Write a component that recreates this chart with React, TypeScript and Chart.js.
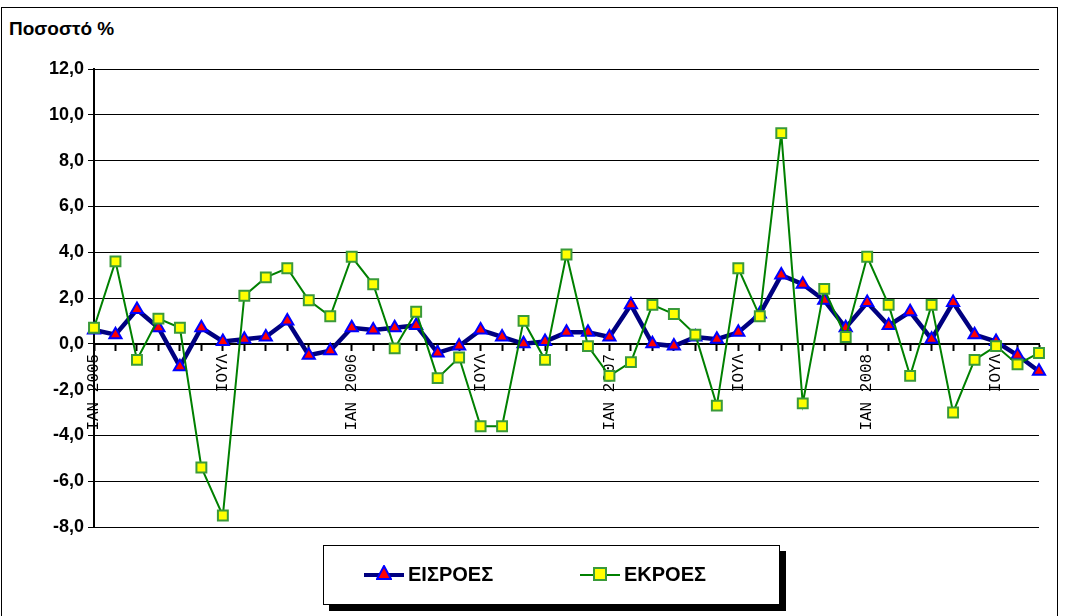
import React, { useEffect, useRef } from "react";
import { Chart, registerables } from "chart.js";
Chart.register(...registerables);

const months = ["ΙΑΝ 2005","","","","","","ΙΟΥΛ","","","","","","ΙΑΝ 2006","","","","","","ΙΟΥΛ","","","","","","ΙΑΝ 2007","","","","","","ΙΟΥΛ","","","","","","ΙΑΝ 2008","","","","","","ΙΟΥΛ","",""];
const eisroes = [0.6,0.4,1.5,0.7,-1.0,0.7,0.1,0.2,0.3,1.0,-0.5,-0.3,0.7,0.6,0.7,0.8,-0.4,-0.1,0.6,0.3,0.0,0.1,0.5,0.5,0.3,1.7,0.0,-0.1,0.3,0.2,0.5,1.3,3.0,2.6,1.9,0.7,1.8,0.8,1.4,0.2,1.8,0.4,0.1,-0.5,-1.2];
const ekroes = [0.7,3.6,-0.7,1.1,0.7,-5.4,-7.5,2.1,2.9,3.3,1.9,1.2,3.8,2.6,-0.2,1.4,-1.5,-0.6,-3.6,-3.6,1.0,-0.7,3.9,-0.1,-1.4,-0.8,1.7,1.3,0.4,-2.7,3.3,1.2,9.2,-2.6,2.4,0.3,3.8,1.7,-1.4,1.7,-3.0,-0.7,-0.1,-0.9,-0.4];

export default function App() {
  const ref = useRef<HTMLCanvasElement>(null);
  useEffect(() => {
    const chart = new Chart(ref.current!, {
      type: "line",
      data: {
        labels: months,
        datasets: [
          { label: "ΕΚΡΟΕΣ", data: ekroes, order: 0, borderColor: "#008000", borderWidth: 2, pointStyle: "rect", pointRadius: 7, pointBackgroundColor: "#ffff00", pointBorderColor: "#3a9a3a", pointBorderWidth: 2, tension: 0 },
          { label: "ΕΙΣΡΟΕΣ", data: eisroes, order: 1, borderColor: "#000080", borderWidth: 4.5, pointStyle: "triangle", pointRadius: 7, pointBackgroundColor: "#ff0000", pointBorderColor: "#0000ff", pointBorderWidth: 2, tension: 0 },
        ],
      },
      options: {
        animation: false,
        responsive: false,
        plugins: { legend: { display: false }, tooltip: { enabled: false } },
        layout: { padding: { left: 0, right: 32, top: 69, bottom: 89 } },
        scales: {
          y: {
            min: -8, max: 12,
            afterFit: (s: any) => { s.width = 94; },
            ticks: { stepSize: 2, color: "#000", font: { family: "Arial", weight: 700, size: 18 }, padding: 4, callback: (v: any) => Number(v).toFixed(1).replace(".", ",") },
            grid: { color: "#000", lineWidth: 1, tickLength: 6, tickColor: "#000" },
            border: { color: "#000", width: 2 },
          },
          x: {
            position: { y: 0 } as any,
            offset: false,
            grid: { drawOnChartArea: false, tickLength: 6, tickColor: "#000", tickWidth: 2 },
            border: { color: "#000", width: 2 },
            ticks: { autoSkip: false, minRotation: 90, maxRotation: 90, color: "#000", padding: 4, font: { family: "Liberation Mono", size: 16 } },
          },
        },
      },
    });
    return () => chart.destroy();
  }, []);
  const tri = (
    <svg width="16" height="16" style={{ position: "absolute", left: 12, top: -8 }}><polygon points="8,1 15,14 1,14" fill="#ff0000" stroke="#0000ff" strokeWidth="2" /></svg>
  );
  const sq = (
    <svg width="16" height="16" style={{ position: "absolute", left: 12, top: -8 }}><rect x="2" y="2" width="12" height="12" fill="#ffff00" stroke="#3a9a3a" strokeWidth="2" /></svg>
  );
  return (
    <div style={{ position: "fixed", left: 0, top: 0, width: 1071, height: 616, background: "#fff", fontFamily: "Arial, 'Liberation Sans', sans-serif" }}>
      <div style={{ position: "absolute", left: 1, top: 7, width: 1055, height: 612, border: "1px solid #000" }} />
      <div style={{ position: "absolute", left: 9, top: 18, fontWeight: 700, fontSize: 19 }}>Ποσοστό %</div>
      <canvas ref={ref} width={1071} height={616} style={{ position: "absolute", left: 0, top: 0 }} />
      <div style={{ position: "absolute", left: 323, top: 545, width: 455, height: 58, border: "1px solid #000", background: "#fff", boxShadow: "6px 6px 0 #000", fontWeight: 700, fontSize: 20 }}>
        <div style={{ position: "absolute", left: 40, top: 29, width: 40, height: 4, marginTop: -2, background: "#000080" }}>{tri}</div>
        <div style={{ position: "absolute", left: 84, top: 17 }}>ΕΙΣΡΟΕΣ</div>
        <div style={{ position: "absolute", left: 256, top: 29, width: 40, height: 2, marginTop: -1, background: "#008000" }}>{sq}</div>
        <div style={{ position: "absolute", left: 300, top: 17 }}>ΕΚΡΟΕΣ</div>
      </div>
    </div>
  );
}
